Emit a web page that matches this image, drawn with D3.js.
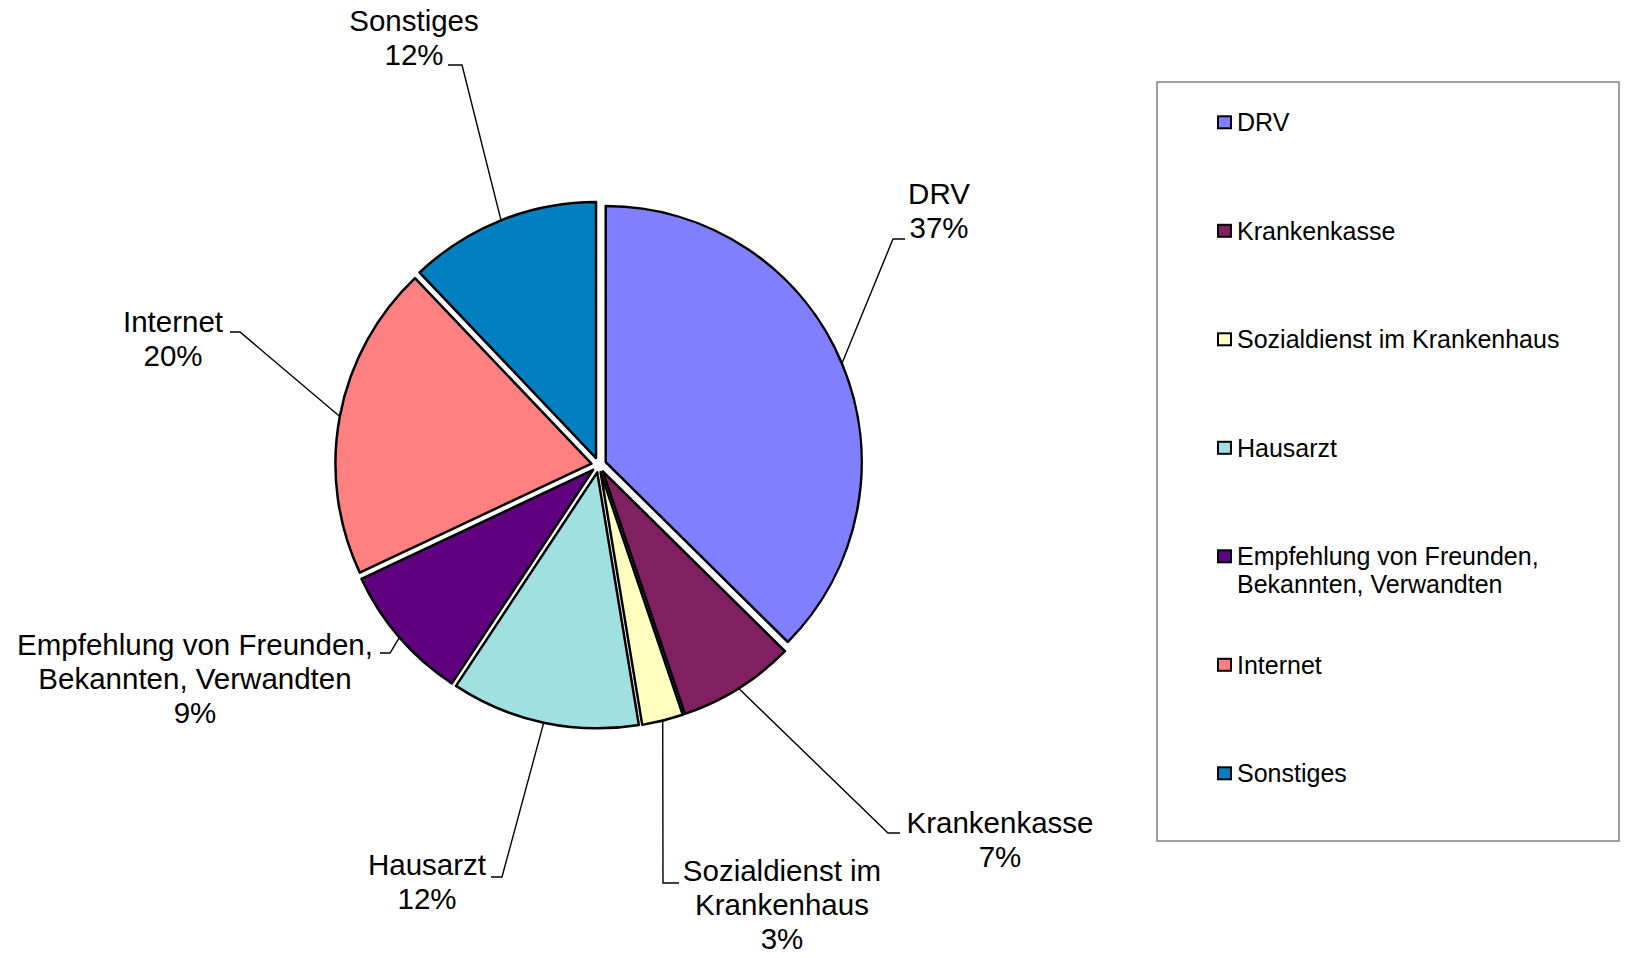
<!DOCTYPE html>
<html lang="de">
<head>
<meta charset="utf-8">
<title>Pie</title>
<script src="https://d3js.org/d3.v7.min.js"></script>
<style>
  body { margin: 0; background: #fff; }
  text { font-family: "Liberation Sans", Arial, sans-serif; fill: #000; }
</style>
</head>
<body>
<script>
let w = 1627;
let h = 958;

// data
const categories = ["DRV", "Krankenkasse", "Sozialdienst im Krankenhaus", "Hausarzt",
                    "Empfehlung von Freunden, Bekannten, Verwandten", "Internet", "Sonstiges"];
const shares = [37.4, 7.4, 2.6, 11.9, 8.7, 19.9, 12.1];
const colors = ["#8080FF", "#802060", "#FFFFC0", "#A0E0E0", "#600080", "#FF8080", "#0080C0"];

// how the names break into lines
const pieLabelLines = [["DRV"], ["Krankenkasse"], ["Sozialdienst im", "Krankenhaus"], ["Hausarzt"],
                       ["Empfehlung von Freunden,", "Bekannten, Verwandten"], ["Internet"], ["Sonstiges"]];
const legendLines = [["DRV"], ["Krankenkasse"], ["Sozialdienst im Krankenhaus"], ["Hausarzt"],
                     ["Empfehlung von Freunden,", "Bekannten, Verwandten"], ["Internet"], ["Sonstiges"]];

// label placement (centre x, first baseline) and leader stub (x1, x2, y)
const labelPlace = [
  {x: 939, y: 204, stub: [905, 893, 239]},
  {x: 1000, y: 833, stub: [900, 888, 833]},
  {x: 782, y: 881, stub: [679, 663, 883]},
  {x: 427, y: 875, stub: [491, 502, 877]},
  {x: 195, y: 655, stub: [380, 390, 653]},
  {x: 173, y: 332, stub: [230, 240, 332]},
  {x: 414, y: 31, stub: [448, 462, 65]}
];

let cx = 598.8, cy = 465, r = 256, explode = 7.5;

let svg = d3.select("body")
            .append("svg")
            .attr("width", w)
            .attr("height", h);

let pie = d3.pie().sort(null).value(d => d);
let arcs = pie(shares);
let arc = d3.arc().innerRadius(0).outerRadius(r);

let mid = d => (d.startAngle + d.endAngle) / 2;
let dir = d => [Math.sin(mid(d)), -Math.cos(mid(d))];

let g = svg.append("g").attr("transform", `translate(${cx},${cy})`);

g.selectAll("path")
  .data(arcs)
  .enter()
  .append("path")
  .attr("d", arc)
  .attr("transform", d => `translate(${dir(d)[0] * explode},${dir(d)[1] * explode})`)
  .attr("fill", (d, i) => colors[i])
  .attr("stroke", "#000")
  .attr("stroke-width", 2.5)
  .attr("stroke-linejoin", "round");

// leader lines
svg.selectAll("polyline.leader")
  .data(arcs)
  .enter()
  .append("polyline")
  .attr("class", "leader")
  .attr("points", (d, i) => {
    let p = labelPlace[i];
    let ex = cx + dir(d)[0] * (r + explode);
    let ey = cy + dir(d)[1] * (r + explode);
    return [[p.stub[0], p.stub[2]], [p.stub[1], p.stub[2]], [ex, ey]].map(q => q.join(",")).join(" ");
  })
  .attr("fill", "none")
  .attr("stroke", "#000")
  .attr("stroke-width", 1.4);

// labels
let labels = svg.selectAll("text.lbl")
  .data(arcs)
  .enter()
  .append("text")
  .attr("class", "lbl")
  .attr("text-anchor", "middle")
  .style("font-size", "29.5px");

labels.each(function(d, i) {
  let lines = pieLabelLines[i].concat([Math.round(d.value) + "%"]);
  let t = d3.select(this);
  lines.forEach((s, k) => {
    t.append("tspan")
     .attr("x", labelPlace[i].x)
     .attr("y", labelPlace[i].y + k * 34)
     .text(s);
  });
});

// legend
svg.append("rect")
  .attr("x", 1157).attr("y", 82)
  .attr("width", 462).attr("height", 759)
  .attr("fill", "none")
  .attr("stroke", "#808080")
  .attr("stroke-width", 1.5);

let legY = d3.scaleLinear().domain([0, categories.length - 1]).range([122.3, 773.3]);

let item = svg.selectAll("g.leg")
  .data(categories)
  .enter()
  .append("g")
  .attr("class", "leg")
  .attr("transform", (d, i) => `translate(1217,${legY(i)})`);

item.append("rect")
  .attr("x", 1).attr("y", -6)
  .attr("width", 13).attr("height", 12)
  .attr("fill", (d, i) => colors[i])
  .attr("stroke", "#000")
  .attr("stroke-width", 2);

item.append("text")
  .style("font-size", "25px")
  .each(function(d, i) {
    let t = d3.select(this);
    legendLines[i].forEach((s, k) => {
      t.append("tspan").attr("x", 20).attr("y", 9 + k * 28).text(s);
    });
  });
</script>
</body>
</html>
